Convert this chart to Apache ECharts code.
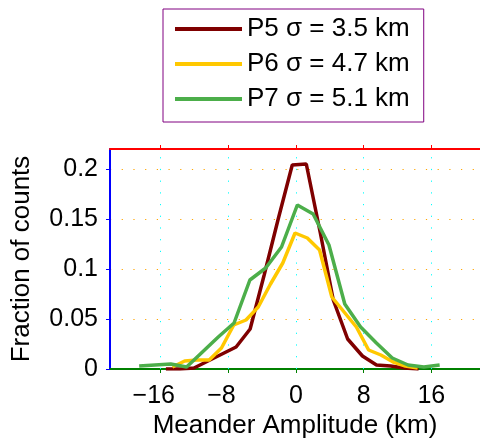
<!DOCTYPE html>
<html><head><meta charset="utf-8">
<script src="https://cdn.jsdelivr.net/npm/echarts@6/dist/echarts.min.js"></script>
<style>html,body{margin:0;padding:0;background:#fff}#c{width:480px;height:440px}</style>
</head><body><div id="c"></div>
<script>
const seriesNames = ['P5 σ = 3.5 km', 'P6 σ = 4.7 km', 'P7 σ = 5.1 km'];

const p5X = [-15.39, -13.73, -12.07, -10.41, -8.75, -7.09, -5.43, -3.77, -2.11, -0.45, 1.21, 2.87, 4.40, 6.10, 7.85, 9.51, 11.17, 12.83, 14.49];
const p5Y = [0.000, 0.000, 0.001, 0.008, 0.015, 0.022, 0.040, 0.094, 0.150, 0.204, 0.205, 0.136, 0.069, 0.030, 0.013, 0.004, 0.003, 0.001, 0.000];

const p6X = [-14.62, -13.17, -11.72, -10.27, -8.82, -7.37, -5.92, -4.47, -3.02, -1.57, -0.12, 1.33, 2.78, 4.23, 5.68, 7.13, 8.58, 10.03, 11.48, 12.93, 14.38];
const p6Y = [0.002, 0.008, 0.009, 0.009, 0.021, 0.044, 0.049, 0.062, 0.085, 0.106, 0.136, 0.131, 0.119, 0.072, 0.057, 0.042, 0.019, 0.014, 0.007, 0.003, 0.001];

const p7X = [-18.55, -16.68, -14.81, -12.94, -11.07, -9.20, -7.33, -5.46, -3.59, -1.72, 0.15, 2.02, 3.89, 5.76, 7.63, 9.50, 11.37, 13.24, 15.11, 16.98];
const p7Y = [0.003, 0.004, 0.005, 0.002, 0.017, 0.032, 0.046, 0.089, 0.101, 0.122, 0.164, 0.155, 0.124, 0.065, 0.042, 0.026, 0.011, 0.004, 0.002, 0.004];

const xTicks = [-16, -8, 0, 8, 16];
const yTicks = [0, 0.05, 0.1, 0.15, 0.2];
const xRange = [-22, 21.75];
const yRange = [0, 0.22];
const xName = 'Meander Amplitude (km)';
const yName = 'Fraction of counts';

const colors = ['#7f0000', '#ffc800', '#4cae4a'];
const FONT = '"Liberation Sans", Arial, Helvetica, sans-serif';

function pairs(xs, ys) { return xs.map((x, i) => [x, ys[i]]); }
function lineSeries(i, xs, ys) {
  const s = { name: seriesNames[i], type: 'line', data: pairs(xs, ys), showSymbol: false,
           itemStyle: { color: colors[i] }, lineStyle: { width: 3.5, color: colors[i] }, z: 3 + i };
  if (i === 0) {
    s.markLine = {
      silent: true, symbol: 'none', animation: false, z: 1,
      label: { show: false },
      lineStyle: { color: 'cyan', width: 1, type: [1.2, 10.5] },
      emphasis: { disabled: true },
      data: xTicks.map(v => ({ xAxis: v }))
    };
  }
  return s;
}

const chart = echarts.init(document.getElementById('c'));

chart.setOption({
  animation: false,
  grid: { left: 110, top: 149, right: 0, bottom: 71, outerBoundsMode: 'none' },
  legend: {
    data: seriesNames, orient: 'vertical', left: 163, top: 9,
    padding: [7, 14, 10, 12], itemGap: 9, itemWidth: 67, itemHeight: 4, icon: 'rect',
    borderColor: 'purple', borderWidth: 1,
    textStyle: { fontSize: 26, color: '#000', fontFamily: FONT }
  },
  xAxis: [{
    type: 'value', min: xRange[0], max: xRange[1], position: 'bottom',
    name: xName, nameLocation: 'middle', nameGap: 44,
    nameTextStyle: { fontSize: 26, color: '#000', fontFamily: FONT },
    axisLine: { show: true, onZero: false, lineStyle: { color: 'green', width: 2 } },
    axisTick: { show: true, length: 4, customValues: xTicks, lineStyle: { color: 'green' } },
    axisLabel: {
      customValues: xTicks, margin: 15, fontSize: 25, color: '#000', fontFamily: FONT,
      formatter: v => v < 0 ? '{n|\u2212' + Math.abs(v) + '}' : String(v),
      rich: { n: { fontSize: 25, color: '#000', fontFamily: FONT, padding: [0, 14, 0, 0] } }
    },
    splitLine: { show: false }
  }, {
    type: 'value', min: xRange[0], max: xRange[1], position: 'top',
    axisLine: { show: true, onZero: false, lineStyle: { color: 'red', width: 2 } },
    axisTick: { show: true, length: 4, customValues: xTicks, lineStyle: { color: 'red' } },
    axisLabel: { show: false },
    splitLine: { show: false }
  }],
  yAxis: {
    type: 'value', min: yRange[0], max: yRange[1],
    name: yName, nameLocation: 'middle', nameGap: 75,
    nameTextStyle: { fontSize: 26, color: '#000', fontFamily: FONT },
    axisLine: { show: true, onZero: false, lineStyle: { color: 'blue', width: 2 } },
    axisTick: { show: true, length: 4, customValues: yTicks, lineStyle: { color: 'blue' } },
    axisLabel: { customValues: yTicks, margin: 12, fontSize: 25, color: '#000', fontFamily: FONT },
    splitLine: { show: true, lineStyle: { color: 'orange', width: 1, type: [1.2, 10.5] } }
  },
  series: [
    lineSeries(0, p5X, p5Y),
    lineSeries(1, p6X, p6Y),
    lineSeries(2, p7X, p7Y)
  ]
});
</script></body></html>
